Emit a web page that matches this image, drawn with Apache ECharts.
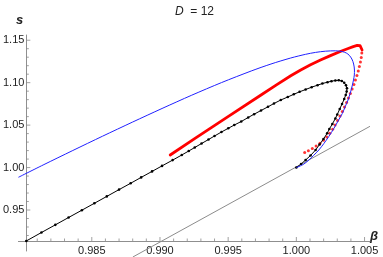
<!DOCTYPE html>
<html>
<head>
<meta charset="utf-8">
<script src="https://cdn.jsdelivr.net/npm/echarts@6/dist/echarts.min.js"></script>
<style>
html,body{margin:0;padding:0;background:#fff;}
#c{width:383px;height:257px;}
</style>
</head>
<body>
<div id="c"></div>
<script>
// ---- data (beta, s) ----
const blackCurve = [[0.98020,0.91355],[0.98131,0.92351],[0.98233,0.93253],[0.98330,0.94118],[0.98427,0.94974],[0.98519,0.95791],[0.98610,0.96603],[0.98700,0.97404],[0.98785,0.98150],[0.98862,0.98841],[0.98942,0.99548],[0.99015,1.00196],[0.99093,1.00879],[0.99160,1.01480],
[0.99211,1.01951],[0.99255,1.02363],[0.99305,1.02834],[0.99356,1.03305],[0.99400,1.03718],[0.99451,1.04189],[0.99501,1.04625],[0.99545,1.05013],[0.99596,1.05425],[0.99647,1.05897],[0.99690,1.06285],[0.99741,1.06721],[0.99792,1.07157],[0.99836,1.07546],[0.99886,1.07958],[0.99937,1.08311],[0.99981,1.08629],[1.00024,1.08924],[1.00068,1.09195],[1.00112,1.09466],[1.00155,1.09701],[1.00191,1.09901],[1.00228,1.10054],[1.00257,1.10172],[1.00286,1.10255],[1.00311,1.10278],[1.00333,1.10196],[1.00351,1.09996],[1.00364,1.09689],[1.00371,1.09336],[1.00369,1.08959],[1.00362,1.08547],[1.00351,1.08076],[1.00335,1.07487],[1.00318,1.06898],[1.00300,1.06250],[1.00286,1.05779],[1.00264,1.05131],[1.00242,1.04542],[1.00226,1.04036],[1.00199,1.03364],[1.00170,1.02716],[1.00141,1.02069],[1.00104,1.01421],[1.00068,1.00891],[1.00035,1.00420],[1.00000,1.00000]];

const blueCurve = [[0.97962,0.98853],[0.98143,1.00302],[0.98361,1.02010],[0.98579,1.03694],[0.98797,1.05343],[0.99015,1.06957],[0.99233,1.08523],[0.99451,1.10007],[0.99669,1.11374],[0.99814,1.12198],[0.99959,1.12905],[1.00068,1.13341],[1.00141,1.13565],[1.00213,1.13706],[1.00286,1.13753],[1.00337,1.13659],[1.00366,1.13494],[1.00388,1.13223],[1.00407,1.12787],[1.00420,1.12198],[1.00426,1.11491],[1.00425,1.10902],[1.00419,1.10314],[1.00409,1.09607],[1.00395,1.08747],[1.00379,1.07958],[1.00358,1.07169],[1.00337,1.06368],[1.00310,1.05602],[1.00275,1.04601],[1.00237,1.03635],[1.00202,1.02834],[1.00165,1.02069],[1.00126,1.01421],[1.00092,1.00891],[1.00050,1.00361],[1.00000,1.00000]];

const redUpper = [[0.99075,1.01480],[0.99257,1.03447],[0.99499,1.05991],[0.99741,1.08547],[0.99857,1.09772],[0.99959,1.10808],[1.00032,1.11491],[1.00104,1.12104],[1.00177,1.12669],[1.00250,1.13188],[1.00322,1.13670],[1.00380,1.14024],[1.00417,1.14248],[1.00446,1.14389],[1.00467,1.14365],[1.00478,1.14200],[1.00482,1.13847]];

const redLower = [[1.00480,1.13494],[1.00476,1.12964],[1.00470,1.12434],[1.00462,1.11904],[1.00454,1.11374],[1.00444,1.10844],[1.00433,1.10314],[1.00422,1.09784],[1.00409,1.09253],[1.00396,1.08723],[1.00382,1.08193],[1.00368,1.07663],[1.00353,1.07133],[1.00337,1.06603],[1.00320,1.06073],[1.00302,1.05543],[1.00284,1.05013],[1.00266,1.04507],[1.00245,1.04036],[1.00223,1.03600],[1.00199,1.03211],[1.00173,1.02858],[1.00145,1.02540],[1.00117,1.02245],[1.00088,1.01986],[1.00061,1.01774]];

const grayLine = [[0.98801,0.89465],[1.00540,1.04860]];

// ---- ticks ----
const xTickLabels = [0.985, 0.990, 0.995, 1.000, 1.005];
const xMinorTicks = [0.981,0.982,0.983,0.984,0.986,0.987,0.988,0.989,0.991,0.992,0.993,0.994,0.996,0.997,0.998,0.999,1.001,1.002,1.003,1.004];
const yTickLabels = [0.95, 1.00, 1.05, 1.10, 1.15];
const yMinorTicks = [0.92,0.93,0.94,0.96,0.97,0.98,0.99,1.01,1.02,1.03,1.04,1.06,1.07,1.08,1.09,1.11,1.12,1.13,1.14];

// axes cross at the origin (beta0, s0)
const AXIS_CROSS_X = 0.9802;
const AXIS_CROSS_Y = 0.9135;

const X_MIN = 0.97962, X_MAX = 1.00540;
const Y_MIN = 0.90172, Y_MAX = 1.15614;

const FONT = '"Liberation Sans", Arial, sans-serif';
const AXIS_COLOR = '#8f8f8f';
const TICK_COLOR = '#8a8a8a';
const LABEL_COLOR = '#222';

const chart = echarts.init(document.getElementById('c'), null, {renderer: 'canvas'});

function tickSeries(data, size, offset) {
  return {
    type: 'scatter', data: data, symbol: 'rect', symbolSize: size, symbolOffset: offset,
    itemStyle: {color: TICK_COLOR}, silent: true, clip: false, z: 1
  };
}

chart.setOption({
  animation: false,
  grid: {left: 15, right: 13, top: 35, bottom: 6, containLabel: false},
  title: {
    text: '{i|D}  = 12',
    left: 170, top: 1,
    textStyle: {
      fontSize: 12, fontWeight: 'normal', color: LABEL_COLOR, fontFamily: FONT,
      rich: {i: {fontStyle: 'italic', fontSize: 12, color: LABEL_COLOR, fontFamily: FONT}}
    }
  },
  xAxis: {
    type: 'value', min: X_MIN, max: X_MAX, position: 'bottom', offset: -10,
    splitLine: {show: false},
    axisLine: {show: true, onZero: false, lineStyle: {color: AXIS_COLOR, width: 1}},
    axisTick: {show: false},
    axisLabel: {show: true, customValues: xTickLabels, margin: 4, color: LABEL_COLOR, fontSize: 11, fontFamily: FONT,
      formatter: v => v.toFixed(3)}
  },
  yAxis: {
    type: 'value', min: Y_MIN, max: Y_MAX, position: 'left', offset: -8,
    splitLine: {show: false},
    axisLine: {show: true, onZero: false, lineStyle: {color: AXIS_COLOR, width: 1}},
    axisTick: {show: false},
    axisLabel: {show: true, customValues: yTickLabels, margin: 2, color: LABEL_COLOR, fontSize: 11, fontFamily: FONT,
      formatter: v => v.toFixed(2)}
  },
  graphic: [
    {type: 'text', left: 16, top: 14, style: {text: 's', font: 'italic bold 13px ' + FONT, fill: LABEL_COLOR}},
    {type: 'text', left: 370, top: 230, style: {text: 'β', font: 'italic bold 13px ' + FONT, fill: LABEL_COLOR}}
  ],
  series: [
    tickSeries(xTickLabels.map(v => [v, AXIS_CROSS_Y]), [1, 4], [0, -2]),
    tickSeries(xMinorTicks.map(v => [v, AXIS_CROSS_Y]), [1, 2.5], [0, -1.25]),
    tickSeries(yTickLabels.map(v => [AXIS_CROSS_X, v]), [4, 1], [2, 0]),
    tickSeries(yMinorTicks.map(v => [AXIS_CROSS_X, v]), [2.5, 1], [1.25, 0]),
    {
      type: 'line', data: grayLine, clip: false,
      showSymbol: false, lineStyle: {color: '#8c8c8c', width: 1}, z: 1
    },
    {
      type: 'line', data: blackCurve,
      showSymbol: true, showAllSymbol: true, symbol: 'circle', symbolSize: 2.6,
      itemStyle: {color: '#000'}, lineStyle: {color: '#000', width: 1}, z: 3
    },
    {
      type: 'line', data: redUpper,
      showSymbol: false, lineStyle: {color: '#ff0000', width: 2.8, cap: 'round', join: 'round'}, z: 2
    },
    {
      type: 'scatter', data: redLower,
      symbol: 'circle', symbolSize: 3, itemStyle: {color: '#ff0000'}, z: 2
    },
    {
      type: 'line', data: blueCurve, clip: false, smooth: 0.3,
      showSymbol: false, lineStyle: {color: '#2020ff', width: 1}, z: 4
    }
  ]
});
</script>
</body>
</html>
